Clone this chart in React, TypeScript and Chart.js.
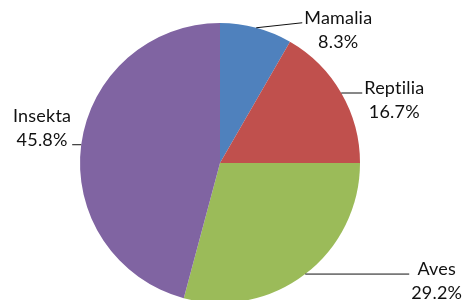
import React, { useEffect, useRef } from "react";
import { Chart, registerables } from "chart.js";

Chart.register(...registerables);

const categories = ["Mamalia", "Reptilia", "Aves", "Insekta"];
const counts = [2, 4, 7, 11];
const percentLabels = ["8.3%", "16.7%", "29.2%", "45.8%"];
const sliceColors = ["#4F81BD", "#C0504D", "#9BBB59", "#8064A2"];

// leader line end offsets from slice edge midpoint (layout only)
const leaderOffsets = [
  [46, -5],
  [21, 0],
  [104, 0],
  [-9, 0],
];

const FONT = "18px Lato";
const LINE_H = 24;

const labelPlugin = {
  id: "pieLabels",
  afterDatasetsDraw(chart: any) {
    const ctx = chart.ctx;
    const meta = chart.getDatasetMeta(0);
    ctx.save();
    ctx.font = FONT;
    try {
      (ctx as any).letterSpacing = "0.2px";
    } catch (e) {}
    ctx.fillStyle = "#111";
    ctx.strokeStyle = "#111";
    ctx.lineWidth = 1;
    meta.data.forEach((arc: any, i: number) => {
      const { x, y, startAngle, endAngle, outerRadius } = arc.getProps(
        ["x", "y", "startAngle", "endAngle", "outerRadius"],
        true
      );
      const mid = (startAngle + endAngle) / 2;
      const sx = x + Math.cos(mid) * outerRadius;
      const sy = y + Math.sin(mid) * outerRadius;
      const ex = sx + leaderOffsets[i][0];
      const ey = sy + leaderOffsets[i][1];
      ctx.beginPath();
      ctx.moveTo(sx, sy);
      ctx.lineTo(ex, ey);
      ctx.stroke();
      const l1 = categories[i];
      const l2 = percentLabels[i];
      const w = Math.max(ctx.measureText(l1).width, ctx.measureText(l2).width);
      ctx.textAlign = "center";
      ctx.textBaseline = "alphabetic";
      const right = Math.cos(mid) >= 0;
      if (right) {
        const cx = ex + 2 + w / 2;
        ctx.fillText(l1, cx, ey + 1);
        ctx.fillText(l2, cx, ey + 1 + LINE_H);
      } else {
        const cx = ex - 1 - w / 2;
        ctx.fillText(l1, cx, ey + 1 - LINE_H);
        ctx.fillText(l2, cx, ey + 1);
      }
    });
    ctx.restore();
  },
};

export default function App() {
  const ref = useRef<HTMLCanvasElement>(null);
  useEffect(() => {
    if (!ref.current) return;
    const chart = new Chart(ref.current, {
      type: "pie",
      data: {
        labels: categories,
        datasets: [
          {
            data: counts,
            backgroundColor: sliceColors,
            borderWidth: 0,
          },
        ],
      },
      options: {
        responsive: false,
        animation: false,
        layout: { padding: { left: 80, right: 103, top: 23, bottom: 23 } },
        plugins: {
          legend: { display: false },
          tooltip: { enabled: false },
        },
      },
      plugins: [labelPlugin],
    });
    return () => chart.destroy();
  }, []);
  return (
    <div
      style={{
        position: "absolute",
        left: 0,
        top: 0,
        width: 463,
        height: 300,
        overflow: "hidden",
        background: "#fff",
      }}
    >
      <canvas ref={ref} width={463} height={326} />
    </div>
  );
}
